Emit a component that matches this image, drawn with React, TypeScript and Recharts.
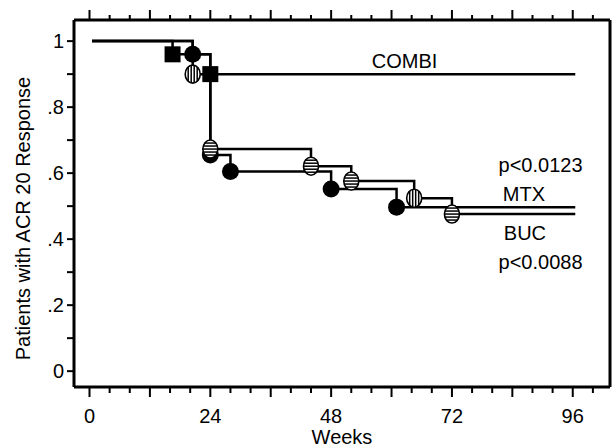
import React from "react";
import {
  ComposedChart,
  Line,
  XAxis,
  YAxis,
  ReferenceDot,
} from "recharts";

// Kaplan-Meier style curves
const COMBI_WEEKS = [0.5, 16.5, 24, 96.5];
const COMBI_VALUES = [1, 0.96, 0.9, 0.9];

const MTX_WEEKS = [0.5, 20.5, 24, 28, 48, 61, 96.5];
const MTX_VALUES = [1, 0.96, 0.655, 0.605, 0.552, 0.497, 0.497];

const BUC_WEEKS = [0.5, 20.5, 24, 44, 52, 64.5, 72, 96.5];
const BUC_VALUES = [1, 0.9, 0.673, 0.621, 0.576, 0.524, 0.476, 0.476];

// BUC markers drawn with vertical instead of horizontal hatching
const BUC_VERTICAL_HATCH = [20.5, 64.5];

const X_TICKS = [0, 4, 8, 12, 16, 20, 24, 28, 32, 36, 40, 44, 48, 52, 56, 60, 64, 68, 72, 76, 80, 84, 88, 92, 96, 100];
const X_LABELS = [0, 24, 48, 72, 96];
const Y_TICKS = [0, 0.1, 0.2, 0.3, 0.4, 0.5, 0.6, 0.7, 0.8, 0.9, 1];
const Y_LABELS: Record<string, string> = { "0": "0", "0.2": ".2", "0.4": ".4", "0.6": ".6", "0.8": ".8", "1": "1" };

const NOTE_TEXT = ["COMBI", "p<0.0123", "MTX", "BUC", "p<0.0088"];
const NOTE_WEEK = [62.6, 89.6, 86.3, 86.5, 89.6];
const NOTE_VALUE = [0.939, 0.624, 0.536, 0.418, 0.33];

const toPoints = (weeks: number[], values: number[]) =>
  weeks.map((t, i) => ({ t, v: values[i] }));

const combiData = toPoints(COMBI_WEEKS, COMBI_VALUES);
const mtxData = toPoints(MTX_WEEKS, MTX_VALUES);
const bucData = toPoints(BUC_WEEKS, BUC_VALUES);

const FONT = "'Liberation Sans', Arial, Helvetica, sans-serif";

function BottomTick(props: any) {
  const { x, y, payload } = props;
  const v = payload.value;
  const major = v % 12 === 0;
  return (
    <g>
      <line x1={x} y1={y} x2={x} y2={y + (major ? 10 : 6)} stroke="#000" strokeWidth={2} />
      {X_LABELS.includes(v) && (
        <text x={x} y={y + 36} textAnchor="middle" fontSize={20} fill="#000" fontFamily={FONT}>
          {v}
        </text>
      )}
    </g>
  );
}

function TopTick(props: any) {
  const { x, y, payload } = props;
  const major = payload.value % 12 === 0;
  return <line x1={x} y1={y} x2={x} y2={y - (major ? 10 : 5)} stroke="#000" strokeWidth={2} />;
}

function LeftTick(props: any) {
  const { x, y, payload } = props;
  const key = String(Math.round(payload.value * 10) / 10);
  const label = Y_LABELS[key];
  return (
    <g>
      <line x1={x} y1={y} x2={x - 7} y2={y} stroke="#000" strokeWidth={2} />
      {label && (
        <text x={x - 10} y={y + 7} textAnchor="end" fontSize={20} fill="#000" fontFamily={FONT}>
          {label}
        </text>
      )}
    </g>
  );
}

const isEnd = (index: number, n: number) => index === 0 || index === n - 1;

function SquareDot(props: any) {
  const { cx, cy, index } = props;
  if (isEnd(index, COMBI_WEEKS.length)) return <g key={`s${index}`} />;
  return <rect key={`s${index}`} x={cx - 8} y={cy - 8} width={16} height={16} fill="#000" />;
}

function FilledDot(props: any) {
  const { cx, cy, index } = props;
  if (isEnd(index, MTX_WEEKS.length)) return <g key={`c${index}`} />;
  return <circle key={`c${index}`} cx={cx} cy={cy} r={8.5} fill="#000" />;
}

function HatchDot(props: any) {
  const { cx, cy, index, payload } = props;
  if (isEnd(index, BUC_WEEKS.length)) return <g key={`h${index}`} />;
  const rx = 7.5;
  const ry = 9;
  const vertical = BUC_VERTICAL_HATCH.includes(payload.t);
  const lines: React.ReactNode[] = [];
  if (vertical) {
    [-4.5, -1.5, 1.5, 4.5].forEach((dx, i) => {
      const h = ry * Math.sqrt(1 - (dx / rx) ** 2);
      lines.push(<line key={i} x1={cx + dx} x2={cx + dx} y1={cy - h} y2={cy + h} stroke="#000" strokeWidth={1.5} />);
    });
  } else {
    [-6, -3, 0, 3, 6].forEach((dy, i) => {
      const w = rx * Math.sqrt(1 - (dy / ry) ** 2);
      lines.push(<line key={i} x1={cx - w} x2={cx + w} y1={cy + dy} y2={cy + dy} stroke="#000" strokeWidth={1.5} />);
    });
  }
  return (
    <g key={`h${index}`}>
      <ellipse cx={cx} cy={cy} rx={rx} ry={ry} fill="#fff" stroke="#000" strokeWidth={1.6} />
      {lines}
    </g>
  );
}

export default function App() {
  return (
    <div style={{ position: "fixed", left: 0, top: 0, width: 613, height: 447, background: "#fff", fontFamily: FONT }}>
      <ComposedChart width={613} height={447} margin={{ top: 0, right: 0, bottom: 0, left: 0 }}>
        <XAxis
          xAxisId="bottom"
          dataKey="t"
          type="number"
          domain={[-3.08, 103.4]}
          allowDataOverflow
          ticks={X_TICKS}
          interval={0}
          height={60}
          tickSize={0}
          tickMargin={0}
          tick={<BottomTick />}
          axisLine={{ stroke: "#000", strokeWidth: 3 }}
          label={{
            content: (p: any) => (
              <text
                x={p.viewBox.x + p.viewBox.width / 2}
                y={444}
                textAnchor="middle"
                fontSize={20}
                fill="#000"
                fontFamily={FONT}
              >
                Weeks
              </text>
            ),
          }}
        />
        <XAxis
          xAxisId="top"
          orientation="top"
          dataKey="t"
          type="number"
          domain={[-3.08, 103.4]}
          allowDataOverflow
          ticks={X_TICKS}
          interval={0}
          height={20}
          tickSize={0}
          tickMargin={0}
          tick={<TopTick />}
          axisLine={{ stroke: "#000", strokeWidth: 3 }}
        />
        <YAxis
          yAxisId="left"
          type="number"
          domain={[-0.048, 1.064]}
          allowDataOverflow
          ticks={Y_TICKS}
          interval={0}
          width={74}
          tickSize={0}
          tickMargin={0}
          tick={<LeftTick />}
          axisLine={{ stroke: "#000", strokeWidth: 3 }}
          label={{
            content: (p: any) => {
              const cy = p.viewBox.y + p.viewBox.height / 2 + 15;
              return (
                <text
                  x={23}
                  y={cy}
                  transform={`rotate(-90 23 ${cy})`}
                  textAnchor="middle"
                  dominantBaseline="central"
                  fontSize={20}
                  fill="#000"
                  fontFamily={FONT}
                >
                  Patients with ACR 20 Response
                </text>
              );
            },
          }}
        />
        <YAxis
          yAxisId="right"
          orientation="right"
          type="number"
          domain={[-0.048, 1.064]}
          allowDataOverflow
          width={3}
          tick={false}
          tickLine={false}
          axisLine={{ stroke: "#000", strokeWidth: 3 }}
        />

        <Line
          xAxisId="bottom"
          yAxisId="left"
          data={mtxData}
          dataKey="v"
          type="stepAfter"
          stroke="#000"
          strokeWidth={2.5}
          dot={FilledDot}
          activeDot={false}
          isAnimationActive={false}
        />
        <Line
          xAxisId="bottom"
          yAxisId="left"
          data={bucData}
          dataKey="v"
          type="stepAfter"
          stroke="#000"
          strokeWidth={2.5}
          dot={HatchDot}
          activeDot={false}
          isAnimationActive={false}
        />
        <Line
          xAxisId="bottom"
          yAxisId="left"
          data={combiData}
          dataKey="v"
          type="stepAfter"
          stroke="#000"
          strokeWidth={2.5}
          dot={SquareDot}
          activeDot={false}
          isAnimationActive={false}
        />

        {NOTE_TEXT.map((txt, i) => (
          <ReferenceDot
            key={txt}
            xAxisId="bottom"
            yAxisId="left"
            x={NOTE_WEEK[i]}
            y={NOTE_VALUE[i]}
            r={0}
            fill="none"
            stroke="none"
            ifOverflow="visible"
            label={{ value: txt, position: "center", fill: "#000", fontSize: 20, fontFamily: FONT }}
          />
        ))}
      </ComposedChart>
    </div>
  );
}
